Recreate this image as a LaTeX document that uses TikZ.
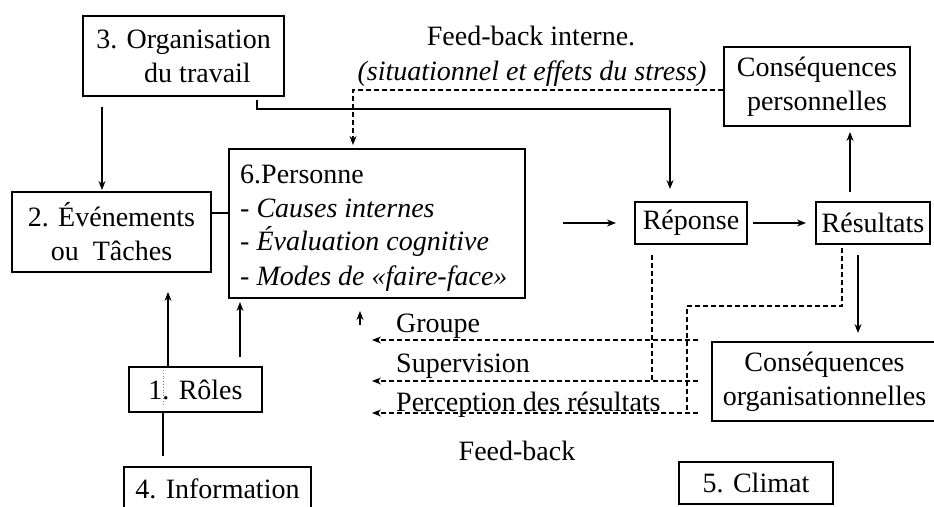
\documentclass[tikz,border=0pt]{standalone}
\usepackage{fontspec}
\setmainfont{Liberation Serif}
\usetikzlibrary{arrows.meta}
\begin{document}
\begin{tikzpicture}[x=1pt,y=-1pt,
  every node/.style={font={\fontsize{28}{34}\selectfont}},
  box/.style={draw, line width=1.1pt, inner sep=0pt, align=center},
  txt/.style={inner sep=0pt},
  link/.style={line width=1.2pt},
  arr/.style={link, -{Stealth[length=9pt,width=7pt]}},
  fb/.style={link, dash pattern=on 5pt off 3pt},
  fbarr/.style={fb, -{Stealth[length=9pt,width=7pt]}},
]
\useasboundingbox (0,0) rectangle (934,506);
\clip (0,0) rectangle (934,506);

% boxes
\node[box, minimum width=201pt, minimum height=80pt] (orga) at (183.5,56) {3. Organisation\\\hspace*{28pt}du travail};
\node[box, minimum width=199pt, minimum height=80pt] (evt) at (111.5,232) {2. Événements\\ou~~Tâches};
\node[box, minimum width=296pt, minimum height=149pt] (pers) at (377,223.5) {};
\node[txt, anchor=base west] (p0) at (240,183) {6.Personne};
\node[txt, anchor=base west] (p1) at (240,217) {- \textit{Causes internes}};
\node[txt, anchor=base west] (p2) at (240,250) {- \textit{Évaluation cognitive}};
\node[txt, anchor=base west] (p3) at (240,285) {- \textit{Modes de «faire-face»}};
\node[box, minimum width=112pt, minimum height=42pt] (rep) at (691,223) {Réponse};
\node[box, minimum width=114pt, minimum height=42pt] (res) at (873,223) {Résultats};
\node[box, minimum width=186pt, minimum height=79pt] (cperso) at (817,86.5) {Conséquences\\personnelles};
\node[box, minimum width=225pt, minimum height=79pt] (corg) at (824.5,381.5) {Conséquences\\organisationnelles};
\node[box, minimum width=133pt, minimum height=45pt] (roles) at (195.5,389.5) {1. Rôles};
\node[box, minimum width=187pt, minimum height=43pt] (info) at (217.5,488.5) {4. Information};
\node[box, minimum width=154pt, minimum height=42pt] (climat) at (756,483) {5. Climat};

% labels
\node[txt, anchor=base] (fbi) at (531,45) {Feed-back interne.};
\node[txt, anchor=base] (fbis) at (532,80) {\textit{(situationnel et effets du stress)}};
\node[txt, anchor=base west] (lgrp) at (396,332) {Groupe};
\node[txt, anchor=base west] (lsup) at (396,372) {Supervision};
\node[txt, anchor=base west] (lperc) at (396,411) {Perception des résultats};
\node[txt, anchor=base] (lfb) at (517,460) {Feed-back};

% solid connectors
\draw[arr] (102,107) -- (102,190);
\draw[arr] (257,100) -- (257,109) -- (670,109) -- (670,189);
\draw[link] (evt.east |- 0,213) -- (pers.west |- 0,213);
\draw[arr] (563,223) -- (616,223);
\draw[arr] (753,223) -- (806,223);
\draw[arr] (850,192) -- (850,132);
\draw[arr] (858,255) -- (858,333);
\draw[arr] (roles.north -| 168,0) -- (168,292);
\draw[arr] (240,357) -- (240,302);
\draw[link] (163,456) -- (roles.south -| 163,0);
\draw[gray, dotted, line width=0.8pt] (163,370) -- (163,404);
\coordinate (tipbase) at (360,325);
\coordinate (tiptop) at (360,311);
\draw[arr] (tipbase) -- (tiptop);

% internal feedback
\draw[fbarr] (cperso.west |- 0,90) -- (353,90) -- (353,145);

% feedback lines
\draw[fbarr] (698,340) -- (372,340);
\draw[fbarr] (698,381) -- (372,381);
\draw[fbarr] (698,413) -- (372,413);
\draw[fb] (652,255) -- (652,381);
\draw[fb] (842,248) -- (842,306) -- (687,306) -- (687,413);
\end{tikzpicture}
\end{document}
